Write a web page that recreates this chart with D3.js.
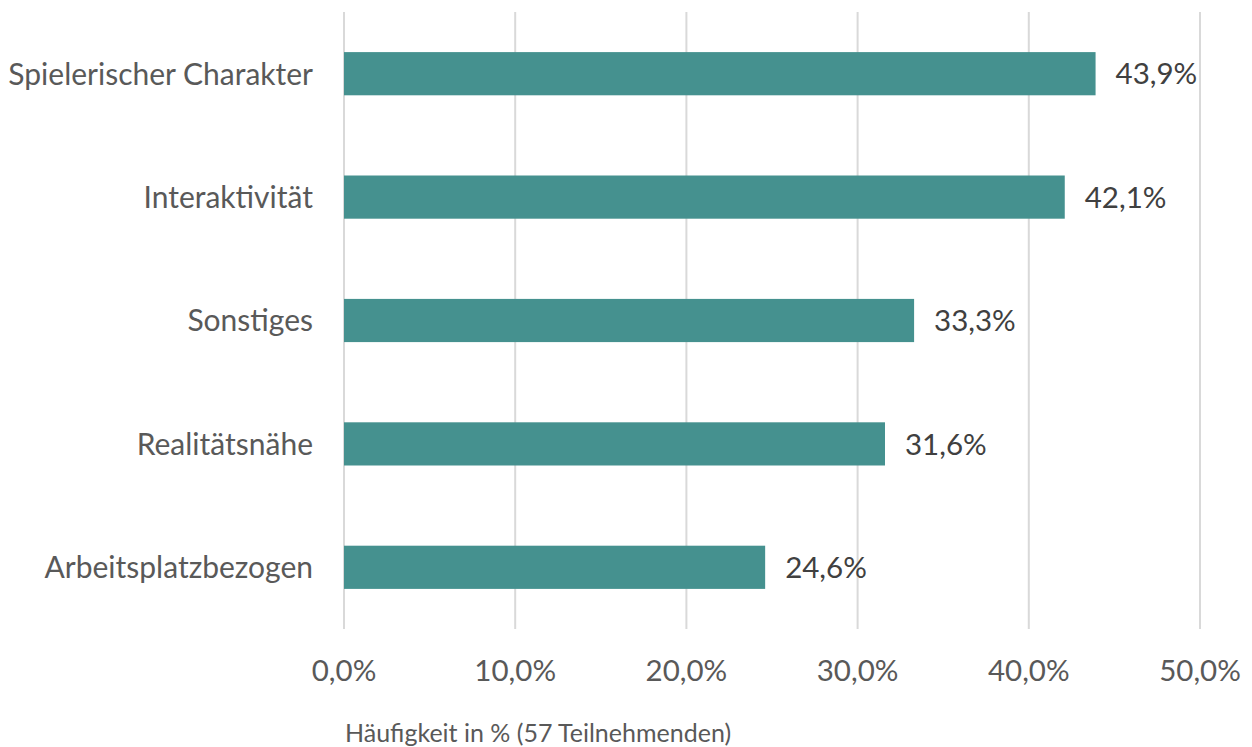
<!DOCTYPE html>
<html><head><meta charset="utf-8">
<script src="https://cdn.jsdelivr.net/npm/d3@7"></script>
<style>body{margin:0;background:#fff}svg{display:block}</style>
</head><body>
<script>
const categories = ["Spielerischer Charakter","Interaktivität","Sonstiges","Realitätsnähe","Arbeitsplatzbezogen"];
const values = [43.9, 42.1, 33.3, 31.6, 24.6];
const tickValues = [0,10,20,30,40,50];
const axisTitle = "Häufigkeit in % (57 Teilnehmenden)";

const W=1252,H=747;
const svg=d3.select("body").append("svg").attr("width",W).attr("height",H);
const font="Lato, 'Open Sans', sans-serif";
const x=d3.scaleLinear().domain([0,50]).range([344,1200]);
const y=d3.scaleBand().domain(categories).range([12,629]).paddingInner(0.65).paddingOuter(0.325);
const fmt=v=>d3.format(".1f")(v).replace(".",",")+"%";

svg.append("g").selectAll("line").data(tickValues).join("line")
 .attr("x1",d=>x(d)).attr("x2",d=>x(d)).attr("y1",12).attr("y2",629)
 .attr("stroke","#d9d9d9").attr("stroke-width",2);

svg.append("g").selectAll("rect").data(values).join("rect")
 .attr("x",x(0)).attr("y",(d,i)=>y(categories[i])).attr("width",d=>x(d)-x(0))
 .attr("height",y.bandwidth()).attr("fill","#45918f");

svg.append("g").selectAll("text").data(values).join("text")
 .attr("x",d=>x(d)+20).attr("y",(d,i)=>y(categories[i])+y.bandwidth()/2)
 .attr("dy","0.36em").attr("font-family",font).attr("font-size",29.5).attr("fill","#404040")
 .text(fmt);

svg.append("g").selectAll("text").data(categories).join("text")
 .attr("x",313).attr("y",d=>y(d)+y.bandwidth()/2).attr("dy","0.36em")
 .attr("text-anchor","end").attr("font-family",font).attr("font-size",30).attr("fill","#595959")
 .text(d=>d);

svg.append("g").selectAll("text").data(tickValues).join("text")
 .attr("x",d=>x(d)).attr("y",670).attr("dy","0.36em").attr("text-anchor","middle")
 .attr("font-family",font).attr("font-size",29.5).attr("fill","#595959").text(fmt);

svg.append("text").attr("x",345).attr("y",733).attr("dy","0.36em")
 .attr("font-family",font).attr("font-size",25).attr("fill","#595959").text(axisTitle);
</script>
</body></html>
